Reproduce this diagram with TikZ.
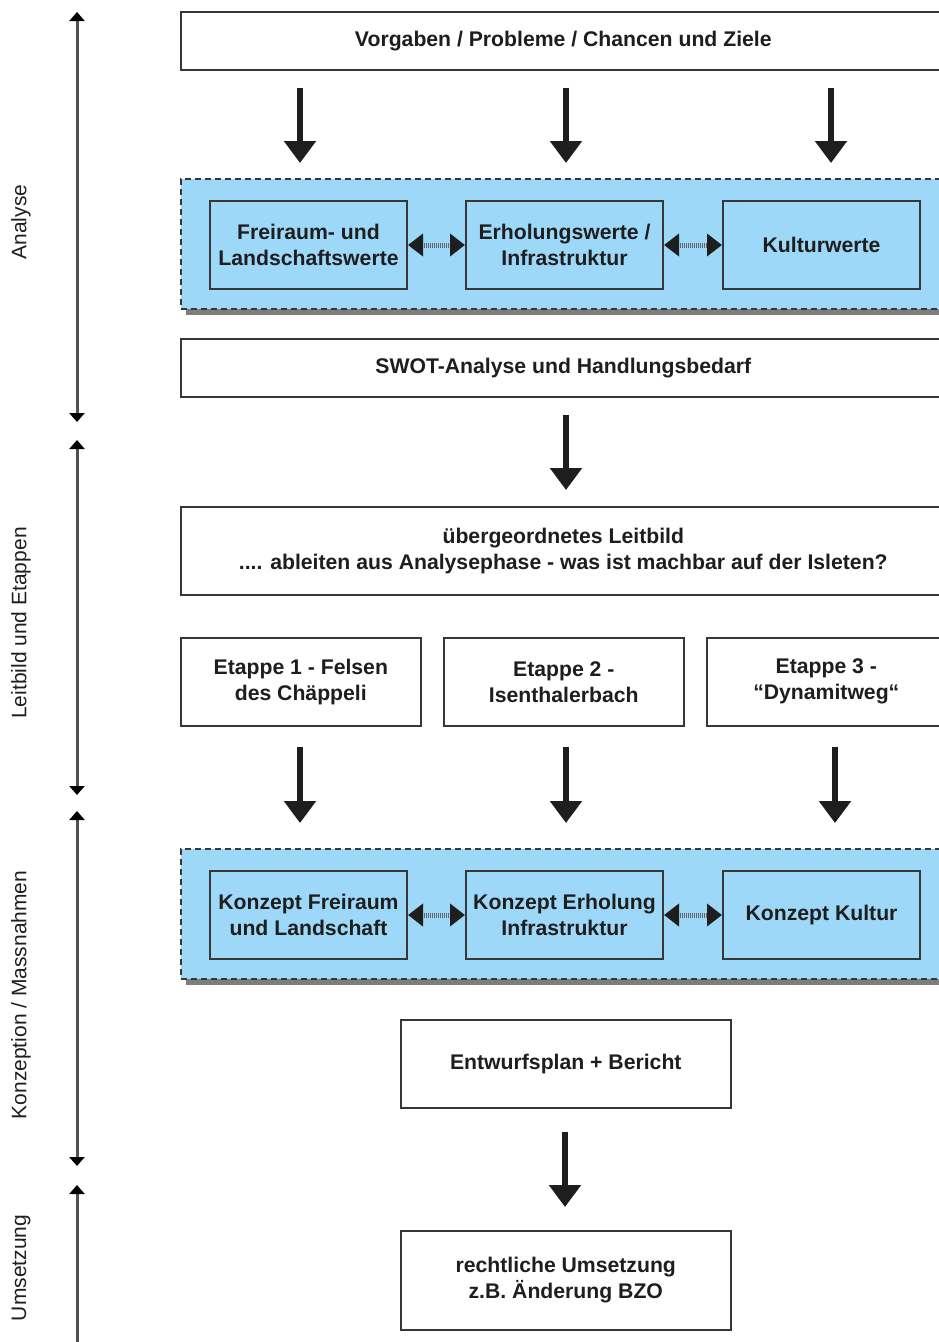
\documentclass[tikz,border=0pt]{standalone}
\usepackage{fontspec}
\setmainfont{Liberation Sans}
\usetikzlibrary{arrows.meta,calc,shadows}
\definecolor{lightblue}{RGB}{158,216,248}
\definecolor{ink}{RGB}{30,30,30}
\definecolor{frame}{RGB}{55,55,55}
\definecolor{axisgray}{RGB}{80,80,80}
\begin{document}
\begin{tikzpicture}[x=1pt,y=-1pt,
  box/.style={draw=frame, line width=1.6pt, fill=white, align=center, text=ink,
    font=\bfseries\fontsize{21.2}{26}\selectfont, inner sep=0pt, anchor=north west},
  group/.style={draw=frame, line width=1.8pt, dash pattern=on 6pt off 4pt, fill=lightblue,
    anchor=north west, inner sep=0pt,
    drop shadow={shadow xshift=5pt, shadow yshift=-6pt, fill=black!60, opacity=0.85}},
  inner/.style={box, fill=lightblue, line width=2pt},
  bigarrow/.style={line width=6pt, draw=ink, -{Triangle[length=22pt,width=31pt,color=ink]}},
  dbl/.style={line width=5pt, draw=black!60, dash pattern=on 1pt off 1pt,
    {Triangle[length=15pt,width=22pt,color=ink]}-{Triangle[length=15pt,width=22pt,color=ink]}},
  axis/.style={line width=3pt, draw=axisgray,
    {Triangle[length=9pt,width=15pt,color=black]}-{Triangle[length=9pt,width=15pt,color=black]}},
  axislabel/.style={rotate=90, text=ink, font=\fontsize{21}{24}\selectfont, inner sep=0pt}
]
\useasboundingbox (0,0) rectangle (939,1342);

% ---- Analyse ----
\node[box, minimum width=765, minimum height=58] (top) at (180,11) {Vorgaben / Probleme / Chancen und Ziele};
\node[group, minimum width=765, minimum height=130] (g1) at (180,178) {};
\node[inner, minimum width=197, minimum height=88] (f1) at (209,200) {Freiraum- und\\Landschaftswerte};
\node[inner, minimum width=197, minimum height=88] (e1) at (465,200) {Erholungswerte /\\Infrastruktur};
\node[inner, minimum width=197, minimum height=88] (k1) at (722,200) {Kulturwerte};
\draw[dbl] (f1.east) -- (e1.west);
\draw[dbl] (e1.east) -- (k1.west);
\node[box, minimum width=765, minimum height=58] (swot) at (180,338) {SWOT-Analyse und Handlungsbedarf};

\draw[bigarrow, shorten <=17pt, shorten >=15pt] (top.south -| 300,0) -- (g1.north -| 300,0);
\draw[bigarrow, shorten <=17pt, shorten >=15pt] (top.south -| 566,0) -- (g1.north -| 566,0);
\draw[bigarrow, shorten <=17pt, shorten >=15pt] (top.south -| 831,0) -- (g1.north -| 831,0);

% ---- Leitbild ----
\node[box, minimum width=765, minimum height=88] (leit) at (180,506) {übergeordnetes Leitbild\\.... ableiten aus Analysephase - was ist machbar auf der Isleten?};
\draw[bigarrow, shorten <=17pt, shorten >=16pt] (swot.south -| 566,0) -- (leit.north -| 566,0);

\node[box, minimum width=240, minimum height=88] (et1) at (180,637) {Etappe 1 - Felsen\\des Chäppeli};
\node[box, minimum width=240, minimum height=88] (et2) at (443,637) {Etappe 2 -\\Isenthalerbach};
\node[box, minimum width=239, minimum height=88] (et3) at (706,637) {Etappe 3 -\\“Dynamitweg“};

% ---- Konzeption ----
\node[group, minimum width=765, minimum height=130] (g2) at (180,848) {};
\node[inner, minimum width=197, minimum height=88] (f2) at (209,870) {Konzept Freiraum\\und Landschaft};
\node[inner, minimum width=197, minimum height=88] (e2) at (465,870) {Konzept Erholung\\Infrastruktur};
\node[inner, minimum width=197, minimum height=88] (k2) at (722,870) {Konzept Kultur};
\draw[dbl] (f2.east) -- (e2.west);
\draw[dbl] (e2.east) -- (k2.west);

\draw[bigarrow, shorten <=20pt, shorten >=25pt] (et1.south -| 300,0) -- (g2.north -| 300,0);
\draw[bigarrow, shorten <=20pt, shorten >=25pt] (et2.south -| 566,0) -- (g2.north -| 566,0);
\draw[bigarrow, shorten <=20pt, shorten >=25pt] (et3.south -| 835,0) -- (g2.north -| 835,0);

\node[box, minimum width=330, minimum height=88] (entw) at (400,1019) {Entwurfsplan + Bericht};
\node[box, minimum width=330, minimum height=99] (recht) at (400,1230) {rechtliche Umsetzung\\z.B. Änderung BZO};
\draw[bigarrow, shorten <=23pt, shorten >=23pt] (entw.south -| 565,0) -- (recht.north -| 565,0);

% ---- left axis ----
\coordinate (a1) at (77,12);   \coordinate (a2) at (77,422);
\coordinate (b1) at (77,440);  \coordinate (b2) at (77,795);
\coordinate (c1) at (77,811);  \coordinate (c2) at (77,1166);
\coordinate (d1) at (77,1185); \coordinate (d2) at (77,1352);
\draw[axis] (a1) -- (a2);
\draw[axis] (b1) -- (b2);
\draw[axis] (c1) -- (c2);
\draw[axis] (d1) -- (d2);
\node[axislabel] (la) at (21,222) {Analyse};
\node[axislabel] (lb) at (21,623) {Leitbild und Etappen};
\node[axislabel] (lc) at (21,995) {Konzeption / Massnahmen};
\node[axislabel] (ld) at (21,1268) {Umsetzung};
\end{tikzpicture}
\end{document}
